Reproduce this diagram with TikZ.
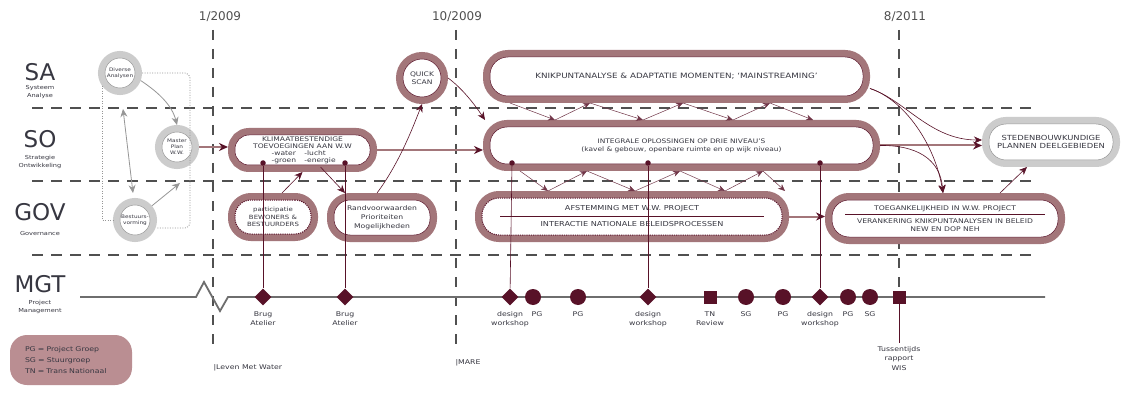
\documentclass[tikz,border=0pt]{standalone}
\usepackage{fontspec}
\setmainfont{DejaVu Sans}
\newfontfamily\wide{DejaVu Sans}[FakeStretch=1.2]
\usetikzlibrary{shapes.geometric,arrows.meta}
\definecolor{dark}{RGB}{88,18,40}
\definecolor{band}{RGB}{163,118,122}
\definecolor{leg}{RGB}{186,142,146}
\definecolor{gband}{RGB}{204,204,204}
\definecolor{gline}{RGB}{150,150,150}
\definecolor{gridc}{RGB}{80,80,80}
\definecolor{mgray}{RGB}{110,110,110}
\definecolor{txt}{RGB}{55,55,65}
\tikzset{
 grid/.style={draw=gridc, line width=1.5pt, dash pattern=on 11pt off 8pt},
 vgrid/.style={draw=gridc, line width=1.3pt, dash pattern=on 10pt off 9pt},
 mbox/.style={rectangle, rounded corners=#1, fill=white, draw=dark, line width=0.5pt, preaction={draw=band, line width=14pt, solid}, outer sep=7pt, inner sep=1pt, align=center, text=txt, font=\wide\fontsize{6.3}{7}\selectfont},
 cbox/.style={mbox=#1, dash pattern=on 1.2pt off 1pt, line width=1pt},
 gbox/.style={rectangle, rounded corners=#1, fill=white, draw=gline, line width=0.5pt, preaction={draw=gband, line width=14pt, solid}, outer sep=7pt, inner sep=1pt, align=center, text=txt, font=\wide\fontsize{7}{8}\selectfont},
 gcirc/.style={circle, fill=white, draw=gline, line width=0.5pt, preaction={draw=gband, line width=14pt, solid}, outer sep=7pt, minimum size=30pt, inner sep=0pt, align=center, text=txt, font=\wide\fontsize{4.8}{5.8}\selectfont},
 qcirc/.style={circle, fill=white, draw=dark, line width=0.5pt, preaction={draw=band, line width=14pt, solid}, outer sep=7pt, minimum size=38pt, inner sep=0pt, align=center, text=txt, font=\wide\fontsize{6.3}{7.5}\selectfont},
 arr/.style={draw=dark, line width=0.6pt, -{Stealth[length=8pt,width=7pt]}},
 barr/.style={draw=band, line width=2pt, -{Stealth[length=9pt,width=8pt,color=dark]}},
 zarr/.style={draw=dark!85, line width=0.5pt, -{Stealth[length=7pt,width=6pt]}},
 garr/.style={draw=gline, line width=0.8pt, -{Stealth[length=8pt,width=7pt]}},
 dgarr/.style={draw=gline, line width=0.8pt, {Stealth[length=8pt,width=7pt]}-{Stealth[length=8pt,width=7pt]}},
 dotl/.style={draw=gline, line width=0.8pt, dash pattern=on 1pt off 1.5pt},
 mline/.style={draw=mgray, line width=1.8pt},
 vl/.style={draw=dark, line width=0.6pt},
 dot/.style={circle, fill=dark, inner sep=0pt, minimum size=5.5pt},
 dmd/.style={diamond, fill=dark, inner sep=0pt, minimum width=17pt, minimum height=17pt},
 crc/.style={circle, fill=dark, inner sep=0pt, minimum size=16pt},
 sqr/.style={rectangle, fill=dark, inner sep=0pt, minimum size=13pt},
 mlab/.style={anchor=north, align=center, text=txt, font=\wide\fontsize{6.5}{9.5}\selectfont},
 rowbig/.style={anchor=base, text=txt, font=\fontsize{23}{23}\selectfont},
 rowsmall/.style={anchor=north, text=txt, align=center, font=\wide\fontsize{5.5}{7.5}\selectfont},
 datelab/.style={text=gridc, font=\fontsize{12}{12}\selectfont},
 note/.style={anchor=west, text=txt, font=\wide\fontsize{6.5}{8}\selectfont},
}
\begin{document}
\begin{tikzpicture}[x=1pt,y=-1pt]
\useasboundingbox[fill=white] (0,0) rectangle (1122,401);

% grid lines
\draw[grid] (32,108) -- (1035,108);
\draw[grid] (32,181) -- (1035,181);
\draw[grid] (32,255) -- (1035,255);
\draw[vgrid] (213,30) -- (213,350);
\draw[vgrid] (456,30) -- (456,350);
\draw[vgrid] (899,30) -- (899,288);

% dates
\node[datelab] (t1) at (220,17) {1/2009};
\node[datelab] (t2) at (457,17) {10/2009};
\node[datelab] (t3) at (905,17) {8/2011};

% row labels
\node[rowbig] (sa) at (40,81) {SA};
\node[rowsmall] (sat) at (40,82) {Systeem\\Analyse};
\node[rowbig] (so) at (40,148) {SO};
\node[rowsmall] (sot) at (40,152) {Strategie\\Ontwikkeling};
\node[rowbig] (gov) at (40,220) {GOV};
\node[rowsmall] (govt) at (40,228) {Governance};
\node[rowbig] (mgt) at (40,292) {MGT};
\node[rowsmall] (mgtt) at (40,297) {Project\\Management};

% legend and notes
\node[rectangle, rounded corners=17pt, fill=leg, minimum width=122pt, minimum height=50pt, text width=92pt, align=left, text=txt, font=\wide\fontsize{6.5}{11}\selectfont] (legend) at (71,360) {PG = Project Groep\\SG = Stuurgroep\\TN = Trans Nationaal};
\node[note] (lmw) at (210,368) {|Leven Met Water};
\node[note] (mare) at (452,363) {|MARE};

% gray circles
\node[gcirc] (div) at (120,73) {Diverse\\Analysen};
\node[gcirc] (master) at (177,147) {Master\\Plan\\W.W.};
\node[gcirc] (best) at (135,220) {Bestuurs-\\vorming};
\coordinate (dr) at (190,228);
\draw[dotl, rounded corners=5pt] (div.east) -| (dr) -- (dr -| best.east);
\draw[dotl] (div.215) |- (best.west);
\draw[garr] (div.-20) .. controls (158,92) and (172,105) .. (master.north);
\draw[dgarr] ([xshift=3pt,yshift=-14pt]div.south) -- ([xshift=-2pt,yshift=5pt]best.north);
\draw[garr] (best.40) -- ([xshift=3pt,yshift=-14pt]master.south);

% maroon boxes
\node[mbox=14pt, minimum width=135pt, minimum height=30pt] (klim) at (302.5,150) {KLIMAATBESTENDIGE\\TOEVOEGINGEN AAN W.W\\\makebox[5.2em][l]{-water}\makebox[4.6em][l]{-lucht}\\\makebox[5.2em][l]{-groen}\makebox[4.6em][l]{-energie}};
\node[cbox=16pt, minimum width=76pt, minimum height=34pt, font=\wide\fontsize{5.8}{7.8}\selectfont] (part) at (273,217) {participatie\\BEWONERS \&\\BESTUURDERS};
\node[mbox=16pt, minimum width=96pt, minimum height=35pt, font=\wide\fontsize{6.4}{8.8}\selectfont] (rand) at (382,217.5) {Randvoorwaarden\\Prioriteiten\\Mogelijkheden};
\node[qcirc] (qs) at (422,78) {QUICK\\SCAN};
\node[mbox=18pt, minimum width=373pt, minimum height=39pt, font=\wide\fontsize{7.3}{8}\selectfont] (knik) at (676.5,76.5) {KNIKPUNTANALYSE \& ADAPTATIE MOMENTEN; ‘MAINSTREAMING’};
\node[mbox=17pt, minimum width=383pt, minimum height=37pt, font=\wide\fontsize{6.2}{8}\selectfont] (int) at (681.5,145.5) {INTEGRALE OPLOSSINGEN OP DRIE NIVEAU’S\\(kavel \& gebouw, openbare ruimte en op wijk niveau)};
\node[cbox=17pt, minimum width=300pt, minimum height=37pt, font=\wide\fontsize{6.8}{8}\selectfont] (afst) at (632,216.5) {AFSTEMMING MET W.W. PROJECT\\[8pt]INTERACTIE NATIONALE BELEIDSPROCESSEN};
\node[mbox=17pt, minimum width=226pt, minimum height=37pt, font=\wide\fontsize{6.4}{7.5}\selectfont] (toeg) at (945,218.5) {TOEGANKELIJKHEID IN W.W. PROJECT\\[6pt]VERANKERING KNIKPUNTANALYSEN IN BELEID\\NEW EN DOP NEH};
\node[gbox=17pt, minimum width=124pt, minimum height=36pt] (sted) at (1051,142) {STEDENBOUWKUNDIGE\\PLANNEN DEELGEBIEDEN};
\draw[dark, line width=0.5pt] ([xshift=25pt]afst.west) -- ([xshift=-25pt]afst.east);
\draw[dark, line width=0.5pt] ([xshift=20pt,yshift=4pt]toeg.west) -- ([xshift=-20pt,yshift=4pt]toeg.east);

% arrows
\draw[barr] (master.east) -- (master.east -| klim.west);
\draw[barr] (klim.east) -- (klim.east -| int.west);
\draw[arr] ([xshift=9pt]part.north) -- (klim.south);
\draw[arr] ([xshift=18pt,yshift=5pt]klim.south) -- ([xshift=-37pt]rand.north);
\draw[arr] ([xshift=-5pt]rand.north) .. controls (398,165) and (412,130) .. (qs.south);
\draw[arr] (qs.east) .. controls (462,88) and (475,105) .. ([xshift=2pt]int.north west);
\draw[barr] (int.east) -- (int.east -| sted.west);
\draw[arr] ([yshift=-12pt]knik.east) .. controls (905,100) and (930,140) .. ([yshift=2pt]sted.west);
\draw[arr] ([yshift=-12pt]knik.east) .. controls (905,100) and (935,145) .. ([xshift=-2pt]toeg.north);
\draw[arr] (int.east) .. controls (915,145) and (940,158) .. ([xshift=-2pt]toeg.north);
\draw[arr] ([xshift=55pt]toeg.north) -- ([xshift=-24pt]sted.south);
\draw[barr] (afst.east) -- (afst.east -| toeg.west);

% zigzag arrows
\draw[zarr] (knik.south -| 510,0) -- (int.north -| 555,0);
\draw[zarr] (int.north -| 555,0) -- (knik.south -| 590,0);
\draw[zarr] (knik.south -| 590,0) -- (int.north -| 643,0);
\draw[zarr] (int.north -| 643,0) -- (knik.south -| 683,0);
\draw[zarr] (knik.south -| 683,0) -- (int.north -| 733,0);
\draw[zarr] (int.north -| 733,0) -- (knik.south -| 770,0);
\draw[zarr] (knik.south -| 770,0) -- (int.north -| 813,0);
\draw[zarr] (int.south -| 520,0) -- (afst.north -| 548,0);
\draw[zarr] (afst.north -| 548,0) -- (int.south -| 587,0);
\draw[zarr] (int.south -| 587,0) -- (afst.north -| 635,0);
\draw[zarr] (afst.north -| 635,0) -- (int.south -| 680,0);
\draw[zarr] (int.south -| 680,0) -- (afst.north -| 725,0);
\draw[zarr] (afst.north -| 725,0) -- (int.south -| 763,0);
\draw[zarr] (int.south -| 763,0) -- (afst.north -| 785,0);

% MGT time line
\draw[mline] (80,297) -- (196,297) -- (204,282) -- (220,311) -- (228,297) -- (1045,297);

% dots on boxes
\node[dot] (k1) at (263,163) {};
\node[dot] (k2) at (345,163) {};
\node[dot] (i1) at (512,163) {};
\node[dot] (i2) at (648,163) {};
\node[dot] (i3) at (820,163) {};

% markers
\node[dmd] (d1) at (263,297) {};
\node[dmd] (d2) at (345,297) {};
\node[dmd] (d3) at (510,297) {};
\node[crc] (c1) at (533,297) {};
\node[crc] (c2) at (578,297) {};
\node[dmd] (d4) at (648,297) {};
\node[sqr] (s1) at (710,297) {};
\node[crc] (c3) at (746,297) {};
\node[crc] (c4) at (783,297) {};
\node[dmd] (d5) at (820,297) {};
\node[crc] (c5) at (848,297) {};
\node[crc] (c6) at (870,297) {};
\node[sqr] (s2) at (899,297) {};

% vertical connectors
\draw[vl] (k1) -- (d1);
\draw[vl] (k2) -- (d2);
\draw[vl] (i1) -- (d3);
\draw[vl] (i2) -- (d4);
\draw[vl] (i3) -- (d5);

% marker labels
\node[mlab] (l1) at (263,308) {Brug\\Atelier};
\node[mlab] (l2) at (345,308) {Brug\\Atelier};
\node[mlab] (l3) at (510,308) {design\\workshop};
\node[mlab] (l4) at (537,308) {PG};
\node[mlab] (l5) at (578,308) {PG};
\node[mlab] (l6) at (648,308) {design\\workshop};
\node[mlab] (l7) at (710,308) {TN\\Review};
\node[mlab] (l8) at (746,308) {SG};
\node[mlab] (l9) at (783,308) {PG};
\node[mlab] (l10) at (820,308) {design\\workshop};
\node[mlab] (l11) at (848,308) {PG};
\node[mlab] (l12) at (870,308) {SG};
\node[mlab] (tus) at (899,343) {Tussentijds\\rapport\\WIS};
\draw[vl] (s2) -- (tus.north);
\end{tikzpicture}
\end{document}
